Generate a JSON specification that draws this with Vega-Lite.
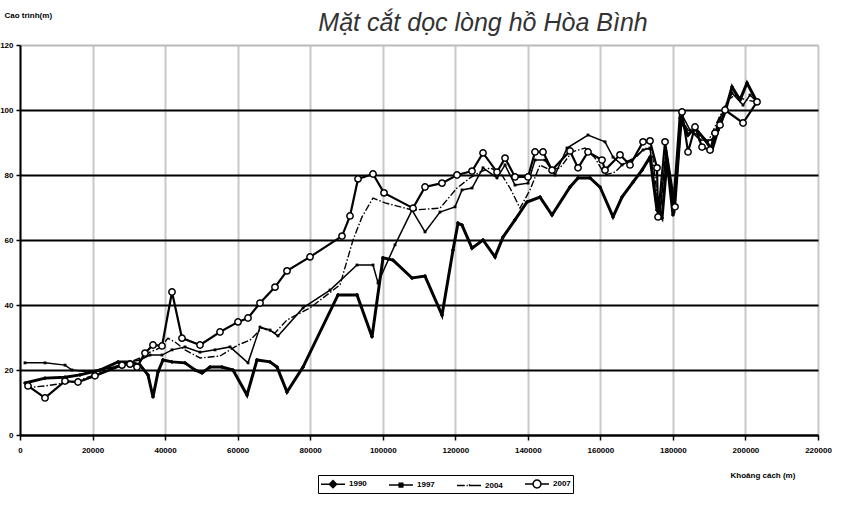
{
"$schema": "https://vega.github.io/schema/vega-lite/v6.json",
"width": 798, "height": 390,
"autosize": {"type": "none"},
"padding": {"left": 20, "top": 45, "right": 25, "bottom": 80},
"background": "white",
"config": {"view": {"stroke": null}, "font": "Liberation Sans"},
"title": {"text": "Mặt cắt dọc lòng hồ Hòa Bình", "fontStyle": "italic", "fontWeight": "normal", "fontSize": 25, "color": "#333", "anchor": "middle", "frame": "group", "dx": 64, "dy": 29},
"datasets": {"d": [
{"year":"1990","x":1379,"y":16.0},{"year":"1990","x":6893,"y":17.5},{"year":"1990","x":12407,"y":17.8},{"year":"1990","x":16542,"y":18.5},{"year":"1990","x":22056,"y":20.0},{"year":"1990","x":27019,"y":22.5},{"year":"1990","x":30327,"y":22.5},{"year":"1990","x":33084,"y":21.5},{"year":"1990","x":35290,"y":18.5},{"year":"1990","x":36668,"y":11.7},{"year":"1990","x":38047,"y":19.4},{"year":"1990","x":39425,"y":23.1},{"year":"1990","x":41906,"y":22.5},{"year":"1990","x":45491,"y":22.2},{"year":"1990","x":48248,"y":20.0},{"year":"1990","x":50178,"y":19.1},{"year":"1990","x":52383,"y":20.9},{"year":"1990","x":55692,"y":20.9},{"year":"1990","x":58724,"y":20.0},{"year":"1990","x":62584,"y":12.3},{"year":"1990","x":65341,"y":23.1},{"year":"1990","x":68925,"y":22.5},{"year":"1990","x":70855,"y":20.9},{"year":"1990","x":73612,"y":13.2},{"year":"1990","x":78023,"y":20.9},{"year":"1990","x":87673,"y":43.1},{"year":"1990","x":92911,"y":43.1},{"year":"1990","x":97046,"y":30.2},{"year":"1990","x":100079,"y":54.5},{"year":"1990","x":102836,"y":53.8},{"year":"1990","x":108074,"y":48.3},{"year":"1990","x":111659,"y":48.9},{"year":"1990","x":116345,"y":36.9},{"year":"1990","x":119378,"y":56.9},{"year":"1990","x":120757,"y":65.2},{"year":"1990","x":121859,"y":64.6},{"year":"1990","x":124616,"y":57.5},{"year":"1990","x":127649,"y":60.0},{"year":"1990","x":130957,"y":54.8},{"year":"1990","x":133163,"y":60.9},{"year":"1990","x":136472,"y":66.2},{"year":"1990","x":139780,"y":71.7},{"year":"1990","x":143364,"y":73.2},{"year":"1990","x":146672,"y":67.7},{"year":"1990","x":151635,"y":76.3},{"year":"1990","x":153840,"y":79.1},{"year":"1990","x":157149,"y":79.1},{"year":"1990","x":159906,"y":76.3},{"year":"1990","x":163490,"y":67.1},{"year":"1990","x":165971,"y":73.2},{"year":"1990","x":169004,"y":77.8},{"year":"1990","x":171486,"y":81.5},{"year":"1990","x":173691,"y":85.5},{"year":"1990","x":175621,"y":69.2},{"year":"1990","x":176999,"y":66.8},{"year":"1990","x":178378,"y":84.6},{"year":"1990","x":180032,"y":67.7},{"year":"1990","x":181962,"y":97.5},{"year":"1990","x":184167,"y":92.3},{"year":"1990","x":186098,"y":94.5},{"year":"1990","x":188855,"y":90.8},{"year":"1990","x":190784,"y":87.7},{"year":"1990","x":192439,"y":93.8},{"year":"1990","x":194369,"y":99.4},{"year":"1990","x":196299,"y":107.1},{"year":"1990","x":198505,"y":103.1},{"year":"1990","x":200434,"y":108.3},{"year":"1990","x":203191,"y":102.5},
{"year":"1997","x":1379,"y":22.2},{"year":"1997","x":6893,"y":22.2},{"year":"1997","x":12407,"y":21.5},{"year":"1997","x":14336,"y":20.0},{"year":"1997","x":19299,"y":19.4},{"year":"1997","x":24813,"y":20.6},{"year":"1997","x":30327,"y":22.5},{"year":"1997","x":33084,"y":23.1},{"year":"1997","x":35841,"y":24.6},{"year":"1997","x":39149,"y":24.6},{"year":"1997","x":41906,"y":26.2},{"year":"1997","x":45491,"y":27.1},{"year":"1997","x":49626,"y":25.5},{"year":"1997","x":53761,"y":26.2},{"year":"1997","x":57897,"y":27.1},{"year":"1997","x":62860,"y":22.2},{"year":"1997","x":66168,"y":33.2},{"year":"1997","x":68925,"y":32.3},{"year":"1997","x":71131,"y":30.5},{"year":"1997","x":78023,"y":39.1},{"year":"1997","x":85467,"y":44.6},{"year":"1997","x":92911,"y":52.3},{"year":"1997","x":97322,"y":52.3},{"year":"1997","x":98701,"y":46.8},{"year":"1997","x":103388,"y":58.5},{"year":"1997","x":108074,"y":69.2},{"year":"1997","x":111659,"y":62.5},{"year":"1997","x":115794,"y":68.6},{"year":"1997","x":119929,"y":70.2},{"year":"1997","x":121859,"y":75.4},{"year":"1997","x":124616,"y":76.0},{"year":"1997","x":127649,"y":82.2},{"year":"1997","x":131509,"y":79.1},{"year":"1997","x":133715,"y":83.1},{"year":"1997","x":136472,"y":76.9},{"year":"1997","x":140056,"y":77.5},{"year":"1997","x":141986,"y":84.6},{"year":"1997","x":144743,"y":84.6},{"year":"1997","x":147500,"y":80.0},{"year":"1997","x":150808,"y":88.3},{"year":"1997","x":156598,"y":92.3},{"year":"1997","x":161285,"y":90.2},{"year":"1997","x":163490,"y":85.5},{"year":"1997","x":165971,"y":83.1},{"year":"1997","x":168728,"y":84.6},{"year":"1997","x":171761,"y":87.7},{"year":"1997","x":173691,"y":88.3},{"year":"1997","x":175345,"y":72.3},{"year":"1997","x":176448,"y":68.6},{"year":"1997","x":178102,"y":87.1},{"year":"1997","x":180307,"y":68.6},{"year":"1997","x":182513,"y":98.5},{"year":"1997","x":184719,"y":93.8},{"year":"1997","x":187476,"y":90.8},{"year":"1997","x":190784,"y":90.8},{"year":"1997","x":192990,"y":97.5},{"year":"1997","x":196299,"y":105.2},{"year":"1997","x":199331,"y":101.5},{"year":"1997","x":201261,"y":104.6},{"year":"1997","x":203191,"y":102.5},
{"year":"2004","x":1379,"y":14.5},{"year":"2004","x":6893,"y":15.1},{"year":"2004","x":12407,"y":16.0},{"year":"2004","x":16542,"y":16.9},{"year":"2004","x":22056,"y":19.1},{"year":"2004","x":27570,"y":21.2},{"year":"2004","x":33084,"y":23.7},{"year":"2004","x":35841,"y":25.5},{"year":"2004","x":38598,"y":26.8},{"year":"2004","x":40804,"y":29.8},{"year":"2004","x":42733,"y":28.6},{"year":"2004","x":45491,"y":26.2},{"year":"2004","x":49626,"y":23.7},{"year":"2004","x":55140,"y":24.3},{"year":"2004","x":60103,"y":27.7},{"year":"2004","x":63411,"y":29.2},{"year":"2004","x":66719,"y":32.9},{"year":"2004","x":70304,"y":31.4},{"year":"2004","x":73612,"y":35.4},{"year":"2004","x":79953,"y":39.1},{"year":"2004","x":88224,"y":46.2},{"year":"2004","x":91808,"y":60.0},{"year":"2004","x":94290,"y":67.1},{"year":"2004","x":97322,"y":72.9},{"year":"2004","x":100630,"y":71.4},{"year":"2004","x":108350,"y":69.2},{"year":"2004","x":115794,"y":69.8},{"year":"2004","x":120481,"y":76.0},{"year":"2004","x":124065,"y":79.1},{"year":"2004","x":126822,"y":80.9},{"year":"2004","x":129579,"y":82.2},{"year":"2004","x":132336,"y":80.9},{"year":"2004","x":135093,"y":76.0},{"year":"2004","x":137850,"y":69.8},{"year":"2004","x":140607,"y":75.4},{"year":"2004","x":143364,"y":83.1},{"year":"2004","x":146121,"y":81.5},{"year":"2004","x":148878,"y":82.2},{"year":"2004","x":152186,"y":87.1},{"year":"2004","x":155770,"y":88.3},{"year":"2004","x":158527,"y":85.2},{"year":"2004","x":161285,"y":80.0},{"year":"2004","x":164042,"y":80.9},{"year":"2004","x":166799,"y":84.0},{"year":"2004","x":169556,"y":85.2},{"year":"2004","x":172313,"y":88.3},{"year":"2004","x":174243,"y":87.7},{"year":"2004","x":175621,"y":73.8},{"year":"2004","x":176723,"y":70.8},{"year":"2004","x":178102,"y":88.3},{"year":"2004","x":180032,"y":72.3},{"year":"2004","x":182237,"y":97.5},{"year":"2004","x":184167,"y":93.8},{"year":"2004","x":186925,"y":92.3},{"year":"2004","x":189682,"y":90.2},{"year":"2004","x":192439,"y":96.9},{"year":"2004","x":195196,"y":103.1},{"year":"2004","x":197126,"y":104.6},{"year":"2004","x":199883,"y":103.1},{"year":"2004","x":203191,"y":102.5},
{"year":"2007","x":2206,"y":15.1},{"year":"2007","x":6893,"y":11.4},{"year":"2007","x":12407,"y":16.6},{"year":"2007","x":15991,"y":16.3},{"year":"2007","x":20678,"y":18.2},{"year":"2007","x":28121,"y":21.5},{"year":"2007","x":30327,"y":21.8},{"year":"2007","x":32257,"y":20.9},{"year":"2007","x":34463,"y":25.2},{"year":"2007","x":36668,"y":27.7},{"year":"2007","x":39149,"y":27.4},{"year":"2007","x":41906,"y":44.0},{"year":"2007","x":44663,"y":29.8},{"year":"2007","x":49626,"y":27.7},{"year":"2007","x":55140,"y":31.7},{"year":"2007","x":60103,"y":34.8},{"year":"2007","x":62860,"y":36.0},{"year":"2007","x":66168,"y":40.6},{"year":"2007","x":70304,"y":45.5},{"year":"2007","x":73612,"y":50.5},{"year":"2007","x":79953,"y":54.8},{"year":"2007","x":88775,"y":61.2},{"year":"2007","x":90981,"y":67.4},{"year":"2007","x":93187,"y":78.8},{"year":"2007","x":97322,"y":80.3},{"year":"2007","x":100355,"y":74.5},{"year":"2007","x":108350,"y":69.8},{"year":"2007","x":111659,"y":76.3},{"year":"2007","x":116345,"y":77.5},{"year":"2007","x":120481,"y":80.0},{"year":"2007","x":124616,"y":81.2},{"year":"2007","x":127649,"y":86.8},{"year":"2007","x":131509,"y":80.9},{"year":"2007","x":133715,"y":85.2},{"year":"2007","x":136472,"y":79.4},{"year":"2007","x":140056,"y":79.4},{"year":"2007","x":141986,"y":87.1},{"year":"2007","x":144191,"y":87.1},{"year":"2007","x":146672,"y":81.5},{"year":"2007","x":151635,"y":87.4},{"year":"2007","x":153840,"y":82.2},{"year":"2007","x":156598,"y":87.1},{"year":"2007","x":160457,"y":84.6},{"year":"2007","x":161285,"y":81.5},{"year":"2007","x":165420,"y":86.2},{"year":"2007","x":168177,"y":83.1},{"year":"2007","x":171761,"y":90.2},{"year":"2007","x":173691,"y":90.5},{"year":"2007","x":175621,"y":82.2},{"year":"2007","x":175897,"y":67.1},{"year":"2007","x":177826,"y":90.2},{"year":"2007","x":180583,"y":70.2},{"year":"2007","x":182513,"y":99.4},{"year":"2007","x":184167,"y":87.1},{"year":"2007","x":186098,"y":94.8},{"year":"2007","x":188027,"y":88.6},{"year":"2007","x":190233,"y":87.7},{"year":"2007","x":191612,"y":92.9},{"year":"2007","x":192990,"y":95.4},{"year":"2007","x":194369,"y":100.0},{"year":"2007","x":199331,"y":96.0},{"year":"2007","x":203191,"y":102.5}
]},
"data": {"name": "d"},
"encoding": {
  "x": {"field": "x", "type": "quantitative",
    "scale": {"domain": [0, 220000], "nice": false, "zero": false},
    "axis": {"values": [0,20000,40000,60000,80000,100000,120000,140000,160000,180000,200000,220000], "format": "d",
      "title": "Khoảng cách (m)", "titleFontSize": 8, "titleFontWeight": "bold", "titleColor": "black", "titleAnchor": "start", "titleAlign": "left", "titleBaseline": "middle", "titleX": 710, "titleY": 40,
      "labelFontSize": 8, "labelFontWeight": "bold", "labelColor": "black", "labelPadding": 6, "labelFlush": false,
      "domainColor": "black", "domainWidth": 2, "tickColor": "black", "tickSize": 5, "tickWidth": 1.5,
      "grid": true, "gridColor": "#c8c8c8", "gridWidth": 2}},
  "y": {"field": "y", "type": "quantitative",
    "scale": {"domain": [0, 120], "nice": false},
    "axis": {"values": [0,20,40,60,80,100,120],
      "title": "Cao trình(m)", "titleAngle": 0, "titleFontSize": 8, "titleFontWeight": "bold", "titleColor": "black", "titleAlign": "left", "titleBaseline": "middle", "titleX": -16, "titleY": -30,
      "labelFontSize": 8, "labelFontWeight": "bold", "labelColor": "black", "labelPadding": 3,
      "domainColor": "black", "domainWidth": 2, "tickColor": "black", "tickSize": 4, "tickWidth": 1.5,
      "grid": true, "gridColor": {"condition": {"test": "datum.value === 120", "value": "#bbbbbb"}, "value": "black"}, "gridWidth": 2}}
},
"layer": [
  {"transform": [{"filter": "datum.year === '1990'"}], "mark": {"type": "line", "color": "black", "strokeWidth": 3}},
  {"transform": [{"filter": "datum.year === '1997'"}], "mark": {"type": "line", "color": "black", "strokeWidth": 1.5}},
  {"transform": [{"filter": "datum.year === '2004'"}], "mark": {"type": "line", "color": "black", "strokeWidth": 1.4, "strokeDash": [7, 2, 1.5, 2]}},
  {"transform": [{"filter": "datum.year === '2007'"}], "mark": {"type": "line", "color": "black", "strokeWidth": 2.2}},
  {"transform": [{"filter": "datum.year === '1990'"}], "mark": {"type": "point", "shape": "diamond", "filled": true, "color": "black", "size": 18, "opacity": 1}},
  {"transform": [{"filter": "datum.year === '1997'"}], "mark": {"type": "point", "shape": "square", "filled": true, "color": "black", "size": 8, "opacity": 1}},
  {"transform": [{"filter": "datum.year === '2007'"}], "mark": {"type": "point", "shape": "circle", "filled": true, "fill": "white", "stroke": "black", "strokeWidth": 1.5, "size": 40, "opacity": 1}},
  {"transform": [{"filter": "datum.x < 0"}], "mark": {"type": "point", "filled": false, "strokeWidth": 1.5},
   "encoding": {
     "shape": {"field": "year", "type": "nominal",
       "scale": {"domain": ["1990","1997","2004","2007"], "range": [
         "M-2,0L2,0M0,-0.6L0.6,0L0,0.6L-0.6,0Z",
         "M-2,0L2,0M-0.3,-0.3L0.3,-0.3L0.3,0.3L-0.3,0.3Z",
         "M-2,0L-0.7,0M-0.4,0L-0.2,0M0.1,-0.2L0.1,0L2,0",
         "M-2,0L-0.66,0M0.66,0L2,0M0.66,0A0.66,0.66 0 1,1 -0.66,0A0.66,0.66 0 1,1 0.66,0"]},
       "legend": {"title": null, "orient": "none", "direction": "horizontal", "legendX": 298, "legendY": 430,
         "symbolSize": 144, "symbolOffset": 6, "symbolStrokeColor": "black", "symbolStrokeWidth": 1.5, "symbolOpacity": 1,
         "labelFontSize": 8, "labelFontWeight": "bold", "labelColor": "black", "labelOffset": 9, "columnPadding": 19,
         "strokeColor": "black", "fillColor": "white", "padding": 2,
         "encode": {"legend": {"update": {"strokeWidth": {"value": 2}}},
                    "symbols": {"update": {"stroke": {"value": "black"}, "strokeWidth": {"value": 1.5}}}}}},
     "stroke": {"field": "year", "type": "nominal",
       "scale": {"domain": ["1990","1997","2004","2007"], "range": ["black","black","black","black"]},
       "legend": {"title": null, "orient": "none", "direction": "horizontal", "legendX": 298, "legendY": 430}},
     "fill": {"field": "year", "type": "nominal",
       "scale": {"domain": ["1990","1997","2004","2007"], "range": ["black","black","white","white"]},
       "legend": {"title": null, "orient": "none", "direction": "horizontal", "legendX": 298, "legendY": 430}}
   }}
],
"resolve": {"scale": {"shape": "independent", "fill": "independent", "stroke": "independent"}}
}
